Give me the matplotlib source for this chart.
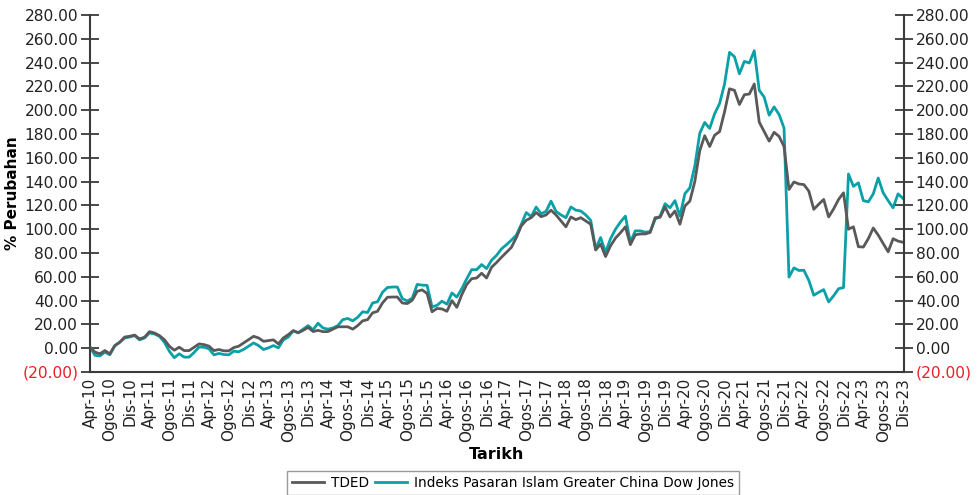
import numpy as np
import matplotlib
matplotlib.use("Agg")
import matplotlib.pyplot as plt

# ------------------------------------
# Data (monthly, Apr-10 .. Dis-23), % change
# ------------------------------------
tded = [1, -3.3, -4.7, -2, -4.7, 2.2, 5, 9.4, 10, 11,
        7.8, 9.2, 13.9, 12.8, 10.6, 7.2, 1.7, -1.7, 0.8, -2,
        -2, 0.8, 3.6, 3, 1.7, -2, -1.1, -2.2, -2.2, 0.5,
        1.7, 4.4, 7.2, 10, 8.6, 5.8, 6.4, 7, 3.6, 8.6,
        11.4, 14.7, 13, 15, 17.5, 14, 15, 13.9, 14, 16,
        18, 18, 18, 16, 19, 23, 24, 29.7, 31, 38,
        42.8, 43, 43, 38, 37.5, 40.3, 47.8, 49, 46, 30.6,
        33.4, 33, 31, 40, 34.4, 45, 53.6, 58.4, 59, 63,
        59, 68, 72, 76.4, 80.5, 84.7, 93, 102.8, 107.5, 109.7,
        114, 110.5, 112, 116, 112, 107, 102, 110.3, 108, 109.7,
        107, 104.2, 82.5, 87.5, 77, 86, 92.5, 97, 102, 87,
        95.3, 96, 96, 97.3, 109.7, 110, 118.7, 110.3, 115.3, 104.2,
        119.5, 123.6, 140, 166, 178.6, 169.5, 179, 182, 198.6, 218,
        216.7, 204.8, 213, 213.6, 222, 190, 182, 174, 181.4, 178,
        169.5, 133.4, 139.7, 138, 137.5, 132, 116.7, 121, 125, 110.3,
        117, 125, 130.6, 100, 102, 85.3, 85, 92, 101, 95,
        88, 81, 92, 90, 89]

indeks = [1, -6, -6.5, -3.3, -5.5, 2, 5, 8.6, 9.4, 10.6,
          7, 8.6, 12.8, 12, 10, 5, -2.5, -8, -4.7, -7.5,
          -7.5, -3.6, 1, 0.8, -0.5, -5.6, -4.4, -5.3, -5.6, -2.5,
          -3, -1, 1.7, 4.4, 2.2, -1.1, 0.3, 2.2, 0.3, 7,
          9.4, 14.7, 13, 16, 19, 15.5, 21, 17, 16, 17,
          19, 24, 25, 23, 26, 30.6, 30, 38, 39, 47,
          51, 51.4, 51.4, 41.7, 39.7, 42, 53.6, 53, 52.8, 34.7,
          36, 39.5, 37, 46.4, 43, 50, 58.4, 66, 66, 70.3,
          66.9, 73.9, 78, 83.4, 87, 90.8, 95, 104, 114, 110.6,
          118.6, 113, 115, 123.6, 115, 112, 109.7, 118.7, 116, 115.3,
          112, 107.5, 83.6, 93, 80.6, 92, 100, 106, 111, 89,
          98.6, 98.6, 97.5, 98, 108.4, 111, 121.4, 118, 124, 111,
          129.8, 134.8, 153, 180.6, 189.7, 184.7, 197, 205.6, 222, 248.6,
          245, 230.6, 241, 239.7, 250, 216.7, 211, 195.8, 202.8, 196.4,
          185, 59.8, 67.5, 65.3, 65.5, 57, 44.5, 47, 49.2, 38.9,
          44, 50, 50.9, 146.4, 136, 139, 124, 123, 129.7, 143,
          130.6, 124, 118, 129.7, 125.8]

bulan = ['Jan', 'Feb', 'Mac', 'Apr', 'Mei', 'Jun', 'Jul', 'Ogos', 'Sep', 'Okt', 'Nov', 'Dis']
mula_tahun, mula_bulan = 2010, 3   # Apr-10
y_ticks = list(range(-20, 281, 20))

label_tded = 'TDED'
label_indeks = 'Indeks Pasaran Islam Greater China Dow Jones'

# ------------------------------------
# Labels for the x axis (every 4 months)
# ------------------------------------
n = len(tded)
x = np.arange(n)
x_ticks = list(range(0, n, 4))
x_labels = []
for i in x_ticks:
    b = (mula_bulan + i) % 12
    t = mula_tahun + (mula_bulan + i) // 12
    x_labels.append(f"{bulan[b]}-{t % 100:02d}")


def fmt(v):
    if v < 0:
        return f"({abs(v):.2f})"
    return f"{v:.2f}"


y_labels = [fmt(v) for v in y_ticks]

# ------------------------------------
# Figure
# ------------------------------------
fig = plt.figure(figsize=(9.79, 4.95), dpi=100)
ax = fig.add_axes([90 / 979, 1 - 372 / 495, 814 / 979, 357 / 495])

grey = '#595959'
teal = '#0aa0a8'
axis_col = '#3a3a3a'

ax.plot(x, tded, color=grey, linewidth=2.0, label=label_tded, zorder=3)
ax.plot(x, indeks, color=teal, linewidth=2.0, label=label_indeks, zorder=2)

ax.set_xlim(0, n - 0.8)
ax.set_ylim(-20, 280)

ax.set_xticks(x_ticks, labels=x_labels, rotation=90, fontsize=11)
ax.tick_params(axis='x', length=0, pad=4, colors='#222222')

ax.set_yticks(y_ticks, labels=y_labels, fontsize=11.2)
ax.tick_params(axis='y', direction='inout', length=13, width=1.3,
               color=axis_col, labelcolor='#222222', pad=2)

# Right axis, same scale
ax2 = ax.twinx()
ax2.set_ylim(-20, 280)
ax2.set_yticks(y_ticks, labels=y_labels, fontsize=11.2)
ax2.tick_params(axis='y', direction='inout', length=13, width=1.3,
                color=axis_col, labelcolor='#222222', pad=2)

for a in (ax, ax2):
    a.spines['top'].set_visible(False)
    for s in ('left', 'right', 'bottom'):
        a.spines[s].set_color(axis_col)
        a.spines[s].set_linewidth(1.5)
    for lbl, v in zip(a.get_yticklabels(), y_ticks):
        if v < 0:
            lbl.set_color('#e8202a')
ax.spines['right'].set_visible(False)
ax2.spines['left'].set_visible(False)
ax2.spines['bottom'].set_visible(False)

ax.set_ylabel('% Perubahan', fontsize=11, fontweight='bold')
ax.yaxis.set_label_coords(-0.086, 0.5)
ax.set_xlabel('Tarikh', fontsize=11.5, fontweight='bold')
ax.xaxis.set_label_coords(0.5, -0.21)

# Legend at the bottom
h1, l1 = ax.get_legend_handles_labels()
fig.legend(h1, l1, loc='upper center', bbox_to_anchor=(513 / 979, 1 - 471 / 495),
           ncol=2, frameon=True, fancybox=False, edgecolor='#808080',
           fontsize=9.8, handlelength=2.4, handletextpad=0.5,
           columnspacing=0.4, borderaxespad=0, borderpad=0.35)

fig.savefig('out.png', dpi=100)
